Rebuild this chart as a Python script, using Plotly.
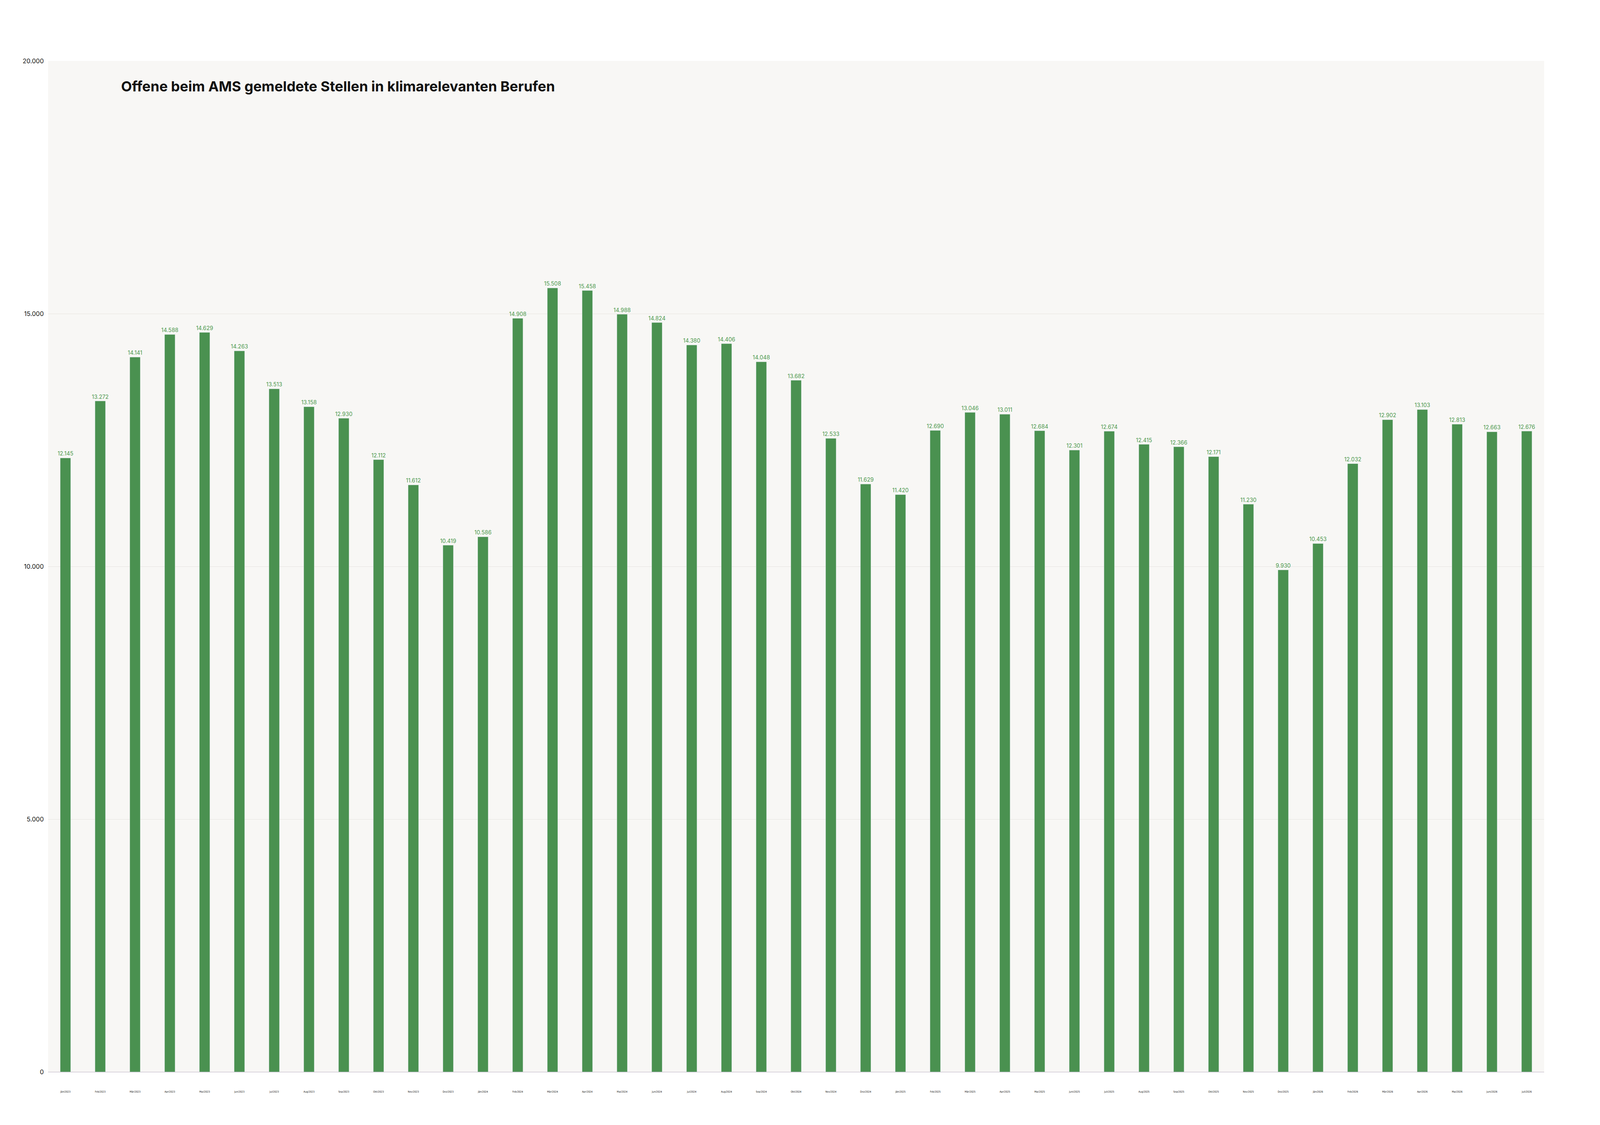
import plotly.graph_objects as go

months = [
    "Jän/2023", "Feb/2023", "Mär/2023", "Apr/2023", "Mai/2023", "Jun/2023", "Jul/2023",
    "Aug/2023", "Sep/2023", "Okt/2023", "Nov/2023", "Dez/2023",
    "Jän/2024", "Feb/2024", "Mär/2024", "Apr/2024", "Mai/2024", "Jun/2024", "Jul/2024",
    "Aug/2024", "Sep/2024", "Okt/2024", "Nov/2024", "Dez/2024",
    "Jän/2025", "Feb/2025", "Mär/2025", "Apr/2025", "Mai/2025", "Juni/2025", "Juli/2025",
    "Aug/2025", "Sep/2025", "Okt/2025", "Nov/2025", "Dez/2025",
    "Jän/2026", "Feb/2026", "Mär/2026", "Apr/2026", "Mai/2026", "Juni/2026", "Juli/2026",
]
open_jobs = [
    12145, 13272, 14141, 14588, 14629, 14263, 13513, 13158, 12930, 12112, 11612, 10419,
    10586, 14908, 15508, 15458, 14988, 14824, 14380, 14406, 14048, 13682, 12533, 11629,
    11420, 12690, 13046, 13011, 12684, 12301, 12674, 12415, 12366, 12171, 11230, 9930,
    10453, 12032, 12902, 13103, 12813, 12663, 12676,
]

labels = [f"{v:,}".replace(",", ".") for v in open_jobs]

fig = go.Figure(
    go.Bar(
        x=months,
        y=open_jobs,
        text=labels,
        textposition="outside",
        constraintext="none",
        textfont=dict(color="#4f9a50", size=14, family="Inter, Noto Sans"),
        marker_color="#4a9150",
        width=0.3,
        cliponaxis=False,
    )
)

fig.update_layout(
    title=dict(
        text="<b>Offene beim AMS gemeldete Stellen in klimarelevanten Berufen</b>",
        x=0.074, xanchor="left", y=0.93, yanchor="top",
        font=dict(size=36, color="#111", family="Inter, Noto Sans"),
    ),
    separators=",.",
    paper_bgcolor="white",
    plot_bgcolor="#f8f7f5",
    showlegend=False,
    margin=dict(t=148, b=128, l=115, r=135),
    font=dict(family="Inter, Noto Sans", color="#111"),
)
fig.update_xaxes(
    tickfont=dict(size=6.5, family="Liberation Sans Narrow, DejaVu Sans Condensed"),
    tickangle=0,
    ticklen=0,
    ticklabelstandoff=44,
    showline=True, linecolor="#b8b0bf", linewidth=1,
)
fig.update_yaxes(
    range=[0, 20000],
    tickvals=[0, 5000, 10000, 15000, 20000],
    tickformat=",d",
    tickfont=dict(size=16),
    gridcolor="#e6e3df",
    zeroline=False,
    ticklabelstandoff=10,
)

fig.write_html("out.html")
